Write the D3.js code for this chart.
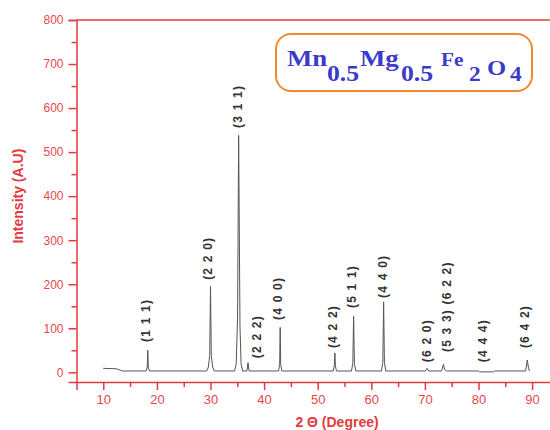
<!DOCTYPE html>
<html>
<head>
<meta charset="utf-8">
<script src="https://cdn.jsdelivr.net/npm/d3@7/dist/d3.min.js"></script>
<style>
  body { margin: 0; background: #fff; }
  svg { display: block; }
  .tick text { font-family: Arial, "Liberation Sans", sans-serif; fill: #e5484c; }
  .hkl { font-family: Arial, "Liberation Sans", sans-serif; font-size: 12px; font-weight: bold; fill: #333; letter-spacing: 1.2px; }
</style>
</head>
<body>
<svg id="chart" width="550" height="430"></svg>
<script>
// diffraction pattern (2 theta in degrees, intensity in A.U)
var twoTheta = [
    10, 12.5, 13.5, 15,
    18.0, 18.2, 18.3, 18.4, 18.6,
    29.3, 29.6, 29.85, 30.0, 30.15, 30.4, 30.7,
    34.5, 34.8, 35.05, 35.25, 35.5, 35.7, 36.0,
    36.8, 37.0, 37.2,
    42.7, 42.9, 43.0, 43.1, 43.3,
    52.9, 53.1, 53.2, 53.3, 53.5,
    56.3, 56.55, 56.7, 56.85, 57.1,
    61.9, 62.15, 62.3, 62.45, 62.7,
    70.1, 70.4, 70.7,
    73.1, 73.45, 73.7, 74.0,
    80.0, 80.2, 82.8, 83.0,
    88.8, 89.1, 89.3, 89.5
];
var intensity = [
    9, 8, 3, 3,
    3, 12, 50, 12, 3,
    3, 12, 38, 195, 38, 12, 3,
    3, 20, 125, 538, 105, 20, 3,
    3, 22, 3,
    3, 18, 102, 18, 3,
    3, 15, 44, 15, 3,
    3, 20, 127, 20, 3,
    3, 22, 160, 22, 3,
    3, 9, 3,
    3, 18, 6, 3,
    3, 1, 1, 3,
    3, 28, 12, 3
];

// Miller index labels: text, 2 theta where it sits, intensity at its foot
var hklText = ['(1 1 1)', '(2 2 0)', '(3 1 1)', '(2 2 2)', '(4 0 0)', '(4 2 2)', '(5 1 1)', '(4 4 0)', '(6 2 0)', '(5 3 3) (6 2 2)', '(4 4 4)', '(6 4 2)'];
var hklTheta = [18.0, 29.5, 35.1, 38.7, 42.6, 52.9, 56.4, 62.2, 70.4, 74.1, 80.8, 88.7];
var hklBase = [69, 210, 555, 32, 119, 55, 146, 169, 23, 46, 23, 55];

var xTicks = [10, 20, 30, 40, 50, 60, 70, 80, 90];
var xMinorTicks = [15, 25, 35, 45, 55, 65, 75, 85];
var yTicks = [0, 100, 200, 300, 400, 500, 600, 700, 800];
var yMinorTicks = [50, 150, 250, 350, 450, 550, 650, 750];

var axisRed = '#e23b3f';

var svg = d3.select('#chart');

var x = d3.scaleLinear().domain([5, 96]).range([76.5, 76.5 + 91 * 5.36]);
var y = d3.scaleLinear().domain([-22, 800]).range([382, 20]);

// axes
var xAxis = svg.append('g')
    .attr('transform', 'translate(0,' + y(-22) + ')')
    .call(d3.axisBottom(x).tickValues(xTicks).tickSize(8).tickPadding(5).tickFormat(d3.format('d')));
xAxis.selectAll('text').style('font-size', '13px');

var xMinor = svg.append('g')
    .attr('transform', 'translate(0,' + y(-22) + ')')
    .call(d3.axisBottom(x).tickValues(xMinorTicks).tickSize(5).tickFormat(''));

var yAxis = svg.append('g')
    .attr('transform', 'translate(' + x(5) + ',0)')
    .call(d3.axisLeft(y).tickValues(yTicks).tickSize(8).tickPadding(5).tickFormat(d3.format('d')));
yAxis.selectAll('text').style('font-size', '12px');

var yMinor = svg.append('g')
    .attr('transform', 'translate(' + x(5) + ',0)')
    .call(d3.axisLeft(y).tickValues(yMinorTicks).tickSize(5).tickFormat(''));

[xAxis, xMinor, yAxis, yMinor].forEach(function (g) {
    g.selectAll('path, line').attr('stroke', axisRed).attr('stroke-width', 1.5);
});
xMinor.select('.domain').remove();
yMinor.select('.domain').remove();

// top frame line
svg.append('line')
    .attr('x1', x(5)).attr('x2', 550)
    .attr('y1', y(800)).attr('y2', y(800))
    .attr('stroke', axisRed).attr('stroke-width', 1.5);

// axis titles
svg.append('text')
    .attr('transform', 'translate(23,' + y(400) + ') rotate(-90)')
    .attr('text-anchor', 'middle')
    .style('font-family', 'Arial, "Liberation Sans", sans-serif')
    .style('font-size', '14px').style('font-weight', 'bold')
    .attr('fill', axisRed)
    .text('Intensity (A.U)');

svg.append('text')
    .attr('x', 337).attr('y', 427)
    .attr('text-anchor', 'middle')
    .style('font-family', 'Arial, "Liberation Sans", sans-serif')
    .style('font-size', '14px').style('font-weight', 'bold')
    .attr('fill', axisRed)
    .text('2 \u0398 (Degree)');

// pattern
var points = twoTheta.map(function (t, i) { return [t, intensity[i]]; });
var line = d3.line()
    .x(function (d) { return x(d[0]); })
    .y(function (d) { return y(d[1]); });

svg.append('path')
    .datum(points)
    .attr('d', line)
    .attr('fill', 'none')
    .attr('stroke', '#555')
    .attr('stroke-width', 1);

// hkl labels
svg.selectAll('.hkl')
    .data(hklText)
    .enter()
    .append('text')
    .attr('class', 'hkl')
    .attr('transform', function (d, i) {
        return 'translate(' + x(hklTheta[i]) + ',' + y(hklBase[i]) + ') rotate(-90)';
    })
    .attr('dy', '0.35em')
    .text(function (d) { return d; });

// compound box
var box = svg.append('g');
box.append('rect')
    .attr('x', 276).attr('y', 34)
    .attr('width', 256).attr('height', 57)
    .attr('rx', 15).attr('ry', 15)
    .attr('fill', '#fff')
    .attr('stroke', '#f08a30').attr('stroke-width', 2);

// pieces of the formula: text, size, left edge, baseline (glyphs are a bit stretched sideways)
[['Mn', 24, 287, 66], ['0.5', 23, 327, 81], ['Mg', 24, 360, 66], ['0.5', 23, 401, 81],
 ['Fe', 19, 441, 66], ['2', 21, 469, 81], ['O', 22, 487, 75], ['4', 21, 510, 81]]
    .forEach(function (p) {
        box.append('text')
            .attr('transform', 'translate(' + p[2] + ',' + p[3] + ') scale(1.12,1)')
            .style('font-family', '"Liberation Serif", "Times New Roman", serif')
            .style('font-weight', 'bold')
            .style('font-size', p[1] + 'px')
            .attr('fill', '#3b3bc8')
            .text(p[0]);
    });
</script>
</body>
</html>
